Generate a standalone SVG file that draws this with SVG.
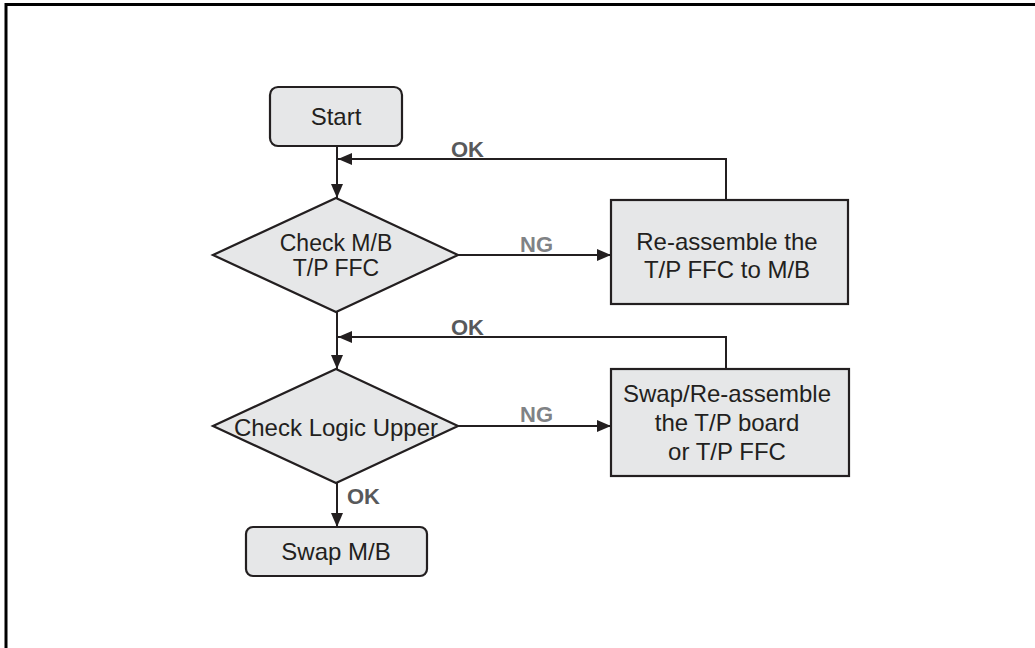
<svg xmlns="http://www.w3.org/2000/svg" width="1035" height="648" viewBox="0 0 1035 648">
<style>
.shape{fill:#e6e7e8;stroke:#231f20;stroke-width:2.2}
.t{font-family:"Liberation Sans",Arial,sans-serif;font-size:24px;fill:#231f20;text-anchor:middle}
.t2{font-family:"Liberation Sans",Arial,sans-serif;font-size:23px;fill:#231f20;text-anchor:middle}
.ok{font-family:"Liberation Sans",Arial,sans-serif;font-size:22px;font-weight:bold;fill:#58595b}
.ng{font-family:"Liberation Sans",Arial,sans-serif;font-size:22px;font-weight:bold;fill:#808285}
.ln{fill:none;stroke:#231f20;stroke-width:2}
</style>
<defs>
<marker id="ah" viewBox="0 0 14 12" refX="14" refY="6" markerWidth="14" markerHeight="12" markerUnits="userSpaceOnUse" orient="auto">
<path d="M0,0 L14,6 L0,12 Z" fill="#231f20"/>
</marker>
</defs>
<rect x="0" y="0" width="1035" height="648" fill="#fff"/>
<path d="M6,648 V4.5 H1035" fill="none" stroke="#000" stroke-width="3"/>
<g id="connectors">
<line class="ln" x1="337" y1="146" x2="337" y2="198" marker-end="url(#ah)"/>
<polyline class="ln" points="726,200 726,159 338,159" marker-end="url(#ah)"/>
<line class="ln" x1="458" y1="255" x2="611" y2="255" marker-end="url(#ah)"/>
<line class="ln" x1="337" y1="312" x2="337" y2="369" marker-end="url(#ah)"/>
<polyline class="ln" points="726,369 726,337 338,337" marker-end="url(#ah)"/>
<line class="ln" x1="458" y1="426" x2="611" y2="426" marker-end="url(#ah)"/>
<line class="ln" x1="337" y1="483" x2="337" y2="527" marker-end="url(#ah)"/>
<text class="ok" x="451" y="157">OK</text>
<text class="ng" x="520" y="252">NG</text>
<text class="ok" x="451" y="335">OK</text>
<text class="ng" x="520" y="422">NG</text>
<text class="ok" x="347" y="504">OK</text>
</g>
<g id="start">
<rect class="shape" x="270" y="87" width="132" height="59" rx="8"/>
<text class="t" x="336" y="125">Start</text>
</g>
<g id="check-fpc">
<polygon class="shape" points="336,198 458,255 336,312 213,255"/>
<text class="t2" x="336" y="251">Check M/B</text>
<text class="t2" x="336" y="276">T/P FFC</text>
</g>
<g id="reassemble">
<rect class="shape" x="611" y="200" width="237" height="104"/>
<text class="t" x="727" y="250">Re-assemble the</text>
<text class="t" x="727" y="278">T/P FFC to M/B</text>
</g>
<g id="check-logic">
<polygon class="shape" points="336,369 458,426 336,483 213,426"/>
<text class="t" x="336" y="436">Check Logic Upper</text>
</g>
<g id="swap-tp">
<rect class="shape" x="611" y="369" width="238" height="107"/>
<text class="t" x="727" y="402">Swap/Re-assemble</text>
<text class="t" x="727" y="431">the T/P board</text>
<text class="t" x="727" y="460">or T/P FFC</text>
</g>
<g id="swap-mb">
<rect class="shape" x="246" y="527" width="181" height="49" rx="7"/>
<text class="t" x="336" y="560">Swap M/B</text>
</g>
</svg>
